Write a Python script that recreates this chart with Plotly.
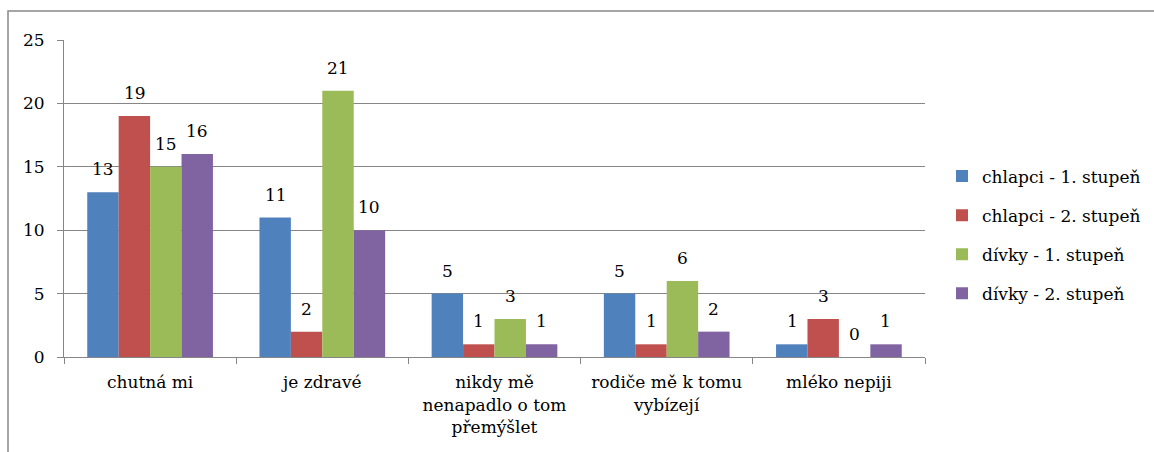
import plotly.graph_objects as go

categories = ["chutná mi", "je zdravé", "nikdy mě<br>nenapadlo o tom<br>přemýšlet",
              "rodiče mě k tomu<br>vybízejí", "mléko nepiji"]
series_names = ["chlapci - 1. stupeň", "chlapci - 2. stupeň", "dívky - 1. stupeň", "dívky - 2. stupeň"]
chlapci_1 = [13, 11, 5, 5, 1]
chlapci_2 = [19, 2, 1, 1, 3]
divky_1 = [15, 21, 3, 6, 0]
divky_2 = [16, 10, 1, 2, 1]
series_values = [chlapci_1, chlapci_2, divky_1, divky_2]
colors = ["#4F81BD", "#C0504D", "#9BBB59", "#8064A2"]
y_ticks = [0, 5, 10, 15, 20, 25]

FONT = "DejaVu Serif"
FS = 17

fig = go.Figure()
for i, (name, vals) in enumerate(zip(series_names, series_values)):
    fig.add_trace(go.Bar(
        x=categories, y=vals, name=name, legendgroup=name,
        marker=dict(color=colors[i], line=dict(width=0)),
    ))

bar_px = 31.2
for i, vals in enumerate(series_values):
    shift = (i - 1.5) * bar_px
    for c, v in zip(categories, vals):
        fig.add_annotation(x=c, y=v, text=str(v), showarrow=False, xshift=shift,
                           yanchor="bottom", yshift=11,
                           font=dict(family=FONT, size=FS, color="#000"))

fig.add_shape(type="rect", xref="paper", yref="paper",
              x0=(8 - 64) / 861, x1=(1170 - 64) / 861,
              y0=(357 - 470) / 317, y1=(357 - 11) / 317,
              line=dict(color="#888888", width=1.5), layer="below")

fig.update_layout(
    width=1154, height=452,
    margin=dict(l=64, r=229, t=40, b=95, autoexpand=False),
    paper_bgcolor="white", plot_bgcolor="white",
    barmode="group", bargap=0.27, bargroupgap=0,
    font=dict(family=FONT, size=FS, color="#000"),
    showlegend=True,
    legend=dict(x=(942 - 64) / 861, xanchor="left", y=(357 - 235) / 317, yanchor="middle",
                font=dict(family=FONT, size=FS, color="#000"),
                traceorder="grouped", tracegroupgap=14, itemwidth=30,
                bgcolor="rgba(0,0,0,0)"),
)
fig.update_xaxes(
    showline=True, linecolor="#868686", linewidth=1,
    ticks="outside", tickson="boundaries", ticklen=6, tickcolor="#868686",
    showgrid=False, tickangle=0, automargin=False, ticklabelstandoff=10,
    tickfont=dict(family=FONT, size=FS, color="#000"),
)
fig.update_yaxes(
    range=[0, 25], tickvals=y_ticks, ticktext=[str(t) for t in y_ticks],
    showline=True, linecolor="#868686", linewidth=1,
    ticks="outside", ticklen=6, tickcolor="#868686",
    showgrid=True, gridcolor="#868686", gridwidth=1,
    zeroline=False, ticklabelstandoff=9, automargin=False,
    tickfont=dict(family=FONT, size=FS, color="#000"),
)

fig.write_html("out.html", config={"displayModeBar": False},
               post_script="document.body.style.margin='0';")
